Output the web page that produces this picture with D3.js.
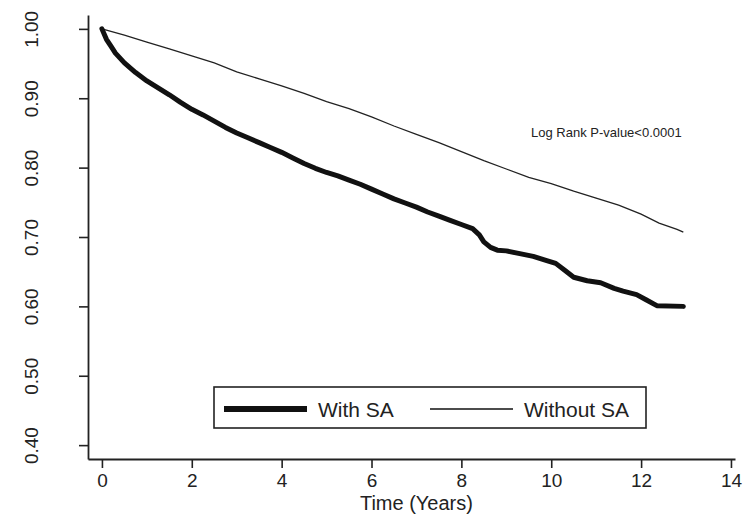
<!DOCTYPE html>
<html>
<head>
<meta charset="utf-8">
<script src="https://cdn.jsdelivr.net/npm/d3@7.9.0/dist/d3.min.js"></script>
<style>
  body { margin: 0; background: #fff; }
  svg { display: block; font-family: "Liberation Sans", Arial, sans-serif; }
</style>
</head>
<body>
<svg width="743" height="515"></svg>
<script>
// survival estimates
const withSaTime = [0, 0.1, 0.2, 0.3, 0.5, 0.75, 1.0, 1.25, 1.5, 1.75, 2.0, 2.25, 2.5, 2.75, 3.0, 3.25, 3.5, 3.75, 4.0, 4.25, 4.5, 4.75, 5.0, 5.25, 5.5, 5.75, 6.0, 6.25, 6.5, 6.75, 7.0, 7.25, 7.5, 7.75, 8.0, 8.25, 8.4, 8.5, 8.65, 8.8, 9.0, 9.3, 9.6, 9.9, 10.1, 10.3, 10.5, 10.8, 11.1, 11.4, 11.6, 11.9, 12.1, 12.35, 12.94];
const withSaSurv = [1.000, 0.985, 0.975, 0.965, 0.951, 0.937, 0.925, 0.915, 0.905, 0.894, 0.884, 0.876, 0.867, 0.858, 0.850, 0.843, 0.836, 0.829, 0.822, 0.814, 0.806, 0.799, 0.793, 0.788, 0.782, 0.776, 0.769, 0.762, 0.755, 0.749, 0.743, 0.736, 0.730, 0.724, 0.718, 0.712, 0.703, 0.693, 0.685, 0.681, 0.680, 0.676, 0.672, 0.666, 0.662, 0.652, 0.642, 0.637, 0.634, 0.626, 0.622, 0.617, 0.610, 0.601, 0.600];

const withoutSaTime = [0, 0.5, 1, 1.5, 2, 2.5, 3, 3.5, 4, 4.5, 5, 5.5, 6, 6.5, 7, 7.5, 8, 8.5, 9, 9.5, 10, 10.5, 11, 11.5, 12, 12.4, 12.8, 12.94];
const withoutSaSurv = [1.000, 0.991, 0.981, 0.971, 0.961, 0.951, 0.938, 0.928, 0.918, 0.907, 0.895, 0.885, 0.873, 0.860, 0.848, 0.836, 0.823, 0.810, 0.798, 0.786, 0.777, 0.766, 0.756, 0.746, 0.733, 0.720, 0.711, 0.707];

const xTicks = [0, 2, 4, 6, 8, 10, 12, 14];
const yTicks = [0.40, 0.50, 0.60, 0.70, 0.80, 0.90, 1.00];
const legendLabels = ['With SA', 'Without SA'];
const pValueText = 'Log Rank P-value<0.0001';
const xTitle = 'Time (Years)';

const ink = '#222';
const svg = d3.select('svg');

let x = d3.scaleLinear().domain([-0.31, 14.09]).range([88, 735]);
let y = d3.scaleLinear().domain([0.38, 1.02]).range([459, 15]);

let xAxis = svg.append('g')
  .attr('transform', 'translate(0,459)')
  .call(d3.axisBottom(x).tickValues(xTicks).tickSize(9).tickSizeOuter(0).tickPadding(6).tickFormat(d3.format('d')));

let yAxis = svg.append('g')
  .attr('transform', 'translate(88,0)')
  .call(d3.axisLeft(y).tickValues(yTicks).tickSize(9).tickSizeOuter(0).tickFormat(d3.format('.2f')));

[xAxis, yAxis].forEach((g) => {
  g.select('.domain').attr('stroke', ink).attr('stroke-width', 1.8);
  g.selectAll('.tick line').attr('stroke', ink).attr('stroke-width', 1.6);
});

xAxis.selectAll('.tick text')
  .attr('fill', ink)
  .attr('font-size', 19)
  .attr('font-family', null);

// rotated y tick labels
yAxis.selectAll('.tick text')
  .attr('fill', ink)
  .attr('font-size', 19)
  .attr('font-family', null)
  .attr('text-anchor', 'middle')
  .attr('dy', null)
  .attr('x', null)
  .attr('transform', 'translate(-57,0) rotate(-90)')
  .attr('dominant-baseline', 'central');

svg.append('text')
  .attr('x', x(7))
  .attr('y', 510)
  .attr('text-anchor', 'middle')
  .attr('font-size', 20)
  .attr('fill', ink)
  .text(xTitle);

let line = d3.line()
  .x((d) => x(d[0]))
  .y((d) => y(d[1]));

let withoutData = withoutSaTime.map((t, i) => [t, withoutSaSurv[i]]);
let withData = withSaTime.map((t, i) => [t, withSaSurv[i]]);

svg.append('path')
  .attr('d', line(withoutData))
  .attr('fill', 'none')
  .attr('stroke', ink)
  .attr('stroke-width', 1.3);

svg.append('path')
  .attr('d', line(withData))
  .attr('fill', 'none')
  .attr('stroke', '#111')
  .attr('stroke-width', 5)
  .attr('stroke-linejoin', 'round')
  .attr('stroke-linecap', 'round');

svg.append('text')
  .attr('x', 531)
  .attr('y', 137)
  .attr('font-size', 13)
  .attr('fill', ink)
  .text(pValueText);

// legend box
let legend = svg.append('g');
legend.append('rect')
  .attr('x', 214).attr('y', 387)
  .attr('width', 432).attr('height', 41)
  .attr('fill', '#fff')
  .attr('stroke', ink)
  .attr('stroke-width', 1.6);

let legendItems = [
  { label: legendLabels[0], x0: 224, width: 6, textX: 318 },
  { label: legendLabels[1], x0: 430, width: 1.3, textX: 524 },
];

legendItems.forEach((d) => {
  legend.append('line')
    .attr('x1', d.x0).attr('x2', d.x0 + 83)
    .attr('y1', 409).attr('y2', 409)
    .attr('stroke', '#111')
    .attr('stroke-width', d.width);
  legend.append('text')
    .attr('x', d.textX)
    .attr('y', 417)
    .attr('font-size', 21)
    .attr('fill', ink)
    .text(d.label);
});
</script>
</body>
</html>
